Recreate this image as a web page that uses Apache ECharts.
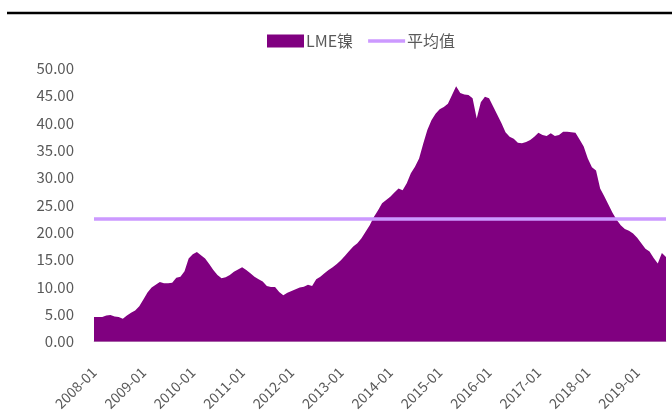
<!DOCTYPE html>
<html>
<head>
<meta charset="utf-8">
<script src="https://cdn.jsdelivr.net/npm/echarts@6/dist/echarts.min.js"></script>
<style>
  html, body { margin: 0; padding: 0; background: #fff; }
  #chart { width: 672px; height: 419px; }
</style>
</head>
<body>
<div id="chart"></div>
<script>
// LME nickel stocks, monthly, 10k tonnes
const startYear = 2008;
const stockValues = [
  4.5, 4.5, 4.5, 4.8, 4.9, 4.6, 4.5, 4.2, 4.8, 5.3, 5.7, 6.5,          // 2008
  7.7, 9.0, 9.9, 10.4, 10.9, 10.7, 10.7, 10.8, 11.7, 11.9, 12.9, 15.2,  // 2009
  16.0, 16.4, 15.8, 15.2, 14.2, 13.1, 12.2, 11.6, 11.8, 12.2, 12.8, 13.2, // 2010
  13.6, 13.1, 12.5, 11.9, 11.4, 11.0, 10.2, 10.0, 10.0, 9.1, 8.5, 8.95, // 2011
  9.25, 9.6, 9.9, 10.05, 10.4, 10.2, 11.4, 11.9, 12.5, 13.1, 13.6, 14.2, // 2012
  14.9, 15.7, 16.6, 17.4, 18.0, 18.9, 20.1, 21.3, 22.8, 24.0, 25.3, 25.9, // 2013
  26.5, 27.3, 28.0, 27.7, 29.0, 30.8, 32.0, 33.5, 36.2, 38.7, 40.5, 41.7, // 2014
  42.5, 42.9, 43.5, 45.1, 46.7, 45.5, 45.2, 45.1, 44.5, 40.8, 43.8, 44.8, // 2015
  44.5, 43.0, 41.5, 40.0, 38.3, 37.5, 37.1, 36.4, 36.3, 36.5, 36.9, 37.5, // 2016
  38.2, 37.8, 37.6, 38.1, 37.6, 37.8, 38.4, 38.4, 38.3, 38.2, 37.0, 35.7, // 2017
  33.5, 31.9, 31.3, 28.0, 26.6, 25.1, 23.6, 22.3, 21.3, 20.6, 20.3, 19.8, // 2018
  19.0, 18.0, 17.0, 16.5, 15.3, 14.3, 16.2, 15.5                          // 2019
];
const seriesNames = ['LME镍', '平均值'];
const yTicks = { min: 0, max: 50, interval: 5 };

// month categories "yyyy-mm", one per value
const months = stockValues.map((_, i) => {
  const y = startYear + Math.floor(i / 12);
  const m = (i % 12) + 1;
  return y + '-' + (m < 10 ? '0' + m : m);
});

// long-run mean of the stock series, drawn as a flat reference line
const meanValue = stockValues.reduce((a, b) => a + b, 0) / stockValues.length;
const meanLine = stockValues.map(() => meanValue);

const font = 'Noto Sans CJK SC';
const grey = '#595959';
const areaColor = '#800080';
const meanColor = '#CC99FF';

const chart = echarts.init(document.getElementById('chart'), null, { renderer: 'canvas' });
chart.setOption({
  backgroundColor: '#ffffff',
  animation: false,
  graphic: [{
    type: 'line',
    shape: { x1: 7, y1: 13, x2: 672, y2: 13 },
    style: { stroke: '#000000', lineWidth: 2.5 }
  }],
  legend: {
    top: 33,
    left: 267,
    padding: 0,
    itemGap: 15,
    itemWidth: 37,
    itemHeight: 13,
    textStyle: { fontFamily: font, fontSize: 16, color: grey, padding: [0, 0, 0, -3] },
    data: [
      { name: seriesNames[0], icon: 'rect', itemStyle: { color: areaColor } },
      { name: seriesNames[1], icon: 'path://M0,0L40,0L40,4L0,4Z', itemStyle: { color: meanColor } }
    ]
  },
  grid: { left: 94, right: 6, top: 68.3, bottom: 77.3, containLabel: false },
  xAxis: {
    type: 'category',
    data: months,
    boundaryGap: false,
    axisLine: { show: true, lineStyle: { color: '#d9d9d9', width: 1 } },
    axisTick: { show: false },
    splitLine: { show: false },
    axisLabel: {
      interval: 11,
      rotate: 45,
      margin: 28,
      color: grey,
      fontFamily: font,
      fontSize: 14
    }
  },
  yAxis: {
    type: 'value',
    min: yTicks.min,
    max: yTicks.max,
    interval: yTicks.interval,
    axisLine: { show: false },
    axisTick: { show: false },
    splitLine: { show: false },
    axisLabel: {
      margin: 20,
      color: grey,
      fontFamily: font,
      fontSize: 15,
      formatter: v => v.toFixed(2)
    }
  },
  series: [
    {
      name: seriesNames[0],
      type: 'line',
      data: stockValues,
      symbol: 'none',
      lineStyle: { width: 0, color: areaColor },
      itemStyle: { color: areaColor },
      areaStyle: { color: areaColor, opacity: 1 },
      z: 2
    },
    {
      name: seriesNames[1],
      type: 'line',
      data: meanLine,
      symbol: 'none',
      lineStyle: { width: 3.5, color: meanColor },
      itemStyle: { color: meanColor },
      z: 3
    }
  ]
});
</script>
</body>
</html>
